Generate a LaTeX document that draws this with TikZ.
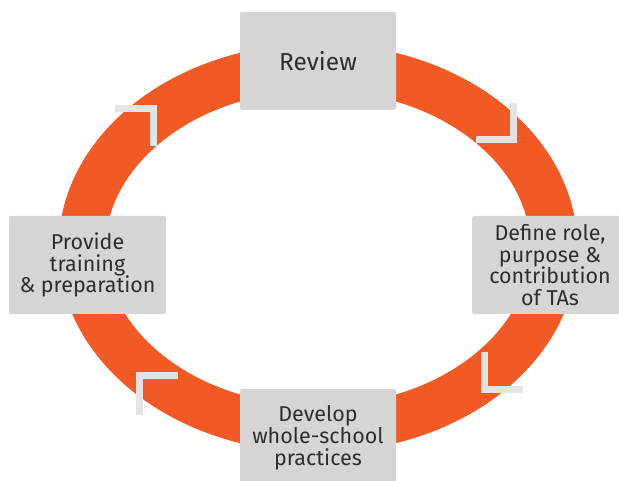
\documentclass[tikz,border=0pt]{standalone}
\usepackage{fontspec}
\setmainfont{Fira Sans}
\usetikzlibrary{positioning}

\definecolor{ringorange}{HTML}{F15A24}
\definecolor{boxgrey}{HTML}{D6D5D4}
\definecolor{markgrey}{HTML}{E6E4E3}
\definecolor{textgrey}{HTML}{2E2E2E}

\begin{document}
\begin{tikzpicture}[x=1pt, y=-1pt,
            stage/.style={fill=boxgrey, rounded corners=2pt, text=textgrey, align=center,
                          inner sep=0pt, minimum width=156pt, minimum height=98pt,
                          font=\fontsize{21.5}{21.8}\selectfont},
            ring/.style={draw=ringorange, line width=47pt},
            chevron/.style={draw=markgrey, line width=6.5pt, miter limit=10}]
        \useasboundingbox (0,0) rectangle (619,481);

        % the cycle
        \draw[ring] (318,248) ellipse [x radius=236, y radius=181];

        % direction marks
        \draw[chevron] (115,108.5) -- (153.5,108.5) -- (153.5,146);
        \draw[chevron] (513.5,103) -- (513.5,139.5) -- (476,139.5);
        \draw[chevron] (484.5,352) -- (484.5,389.5) -- (523,389.5);
        \draw[chevron] (178,375.5) -- (139.5,375.5) -- (139.5,415);

        % stages
        \node[stage, font=\fontsize{24.5}{26}\selectfont] (review) at (318,61) {Review};
        \node[stage] (define) at (550,265) {Define role,\\purpose \&\\contribution\\of TAs};
        \node[stage] (develop) at (318,438) {Develop\\whole-school\\practices};
        \node[stage, minimum width=157pt] (provide) at (87.5,265) {Provide\\training\\\& preparation};
\end{tikzpicture}
\end{document}
